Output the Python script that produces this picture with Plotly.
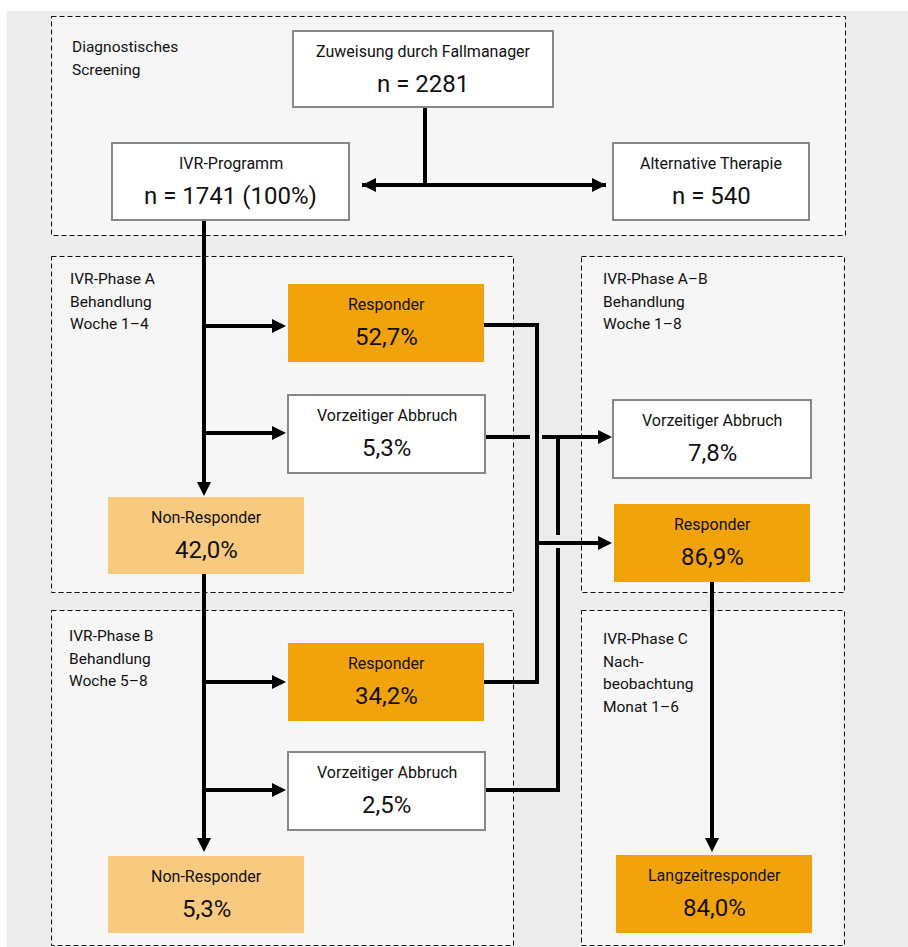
import plotly.graph_objects as go

# Box texts and values
BOX_TITLES = [
    "Zuweisung durch Fallmanager", "IVR-Programm", "Alternative Therapie",
    "Responder", "Vorzeitiger Abbruch", "Non-Responder",
    "Vorzeitiger Abbruch", "Responder",
    "Responder", "Vorzeitiger Abbruch", "Non-Responder",
    "Langzeitresponder",
]
BOX_VALUES = [
    "n = 2281", "n = 1741 (100%)", "n = 540",
    "52,7%", "5,3%", "42,0%",
    "7,8%", "86,9%",
    "34,2%", "2,5%", "5,3%",
    "84,0%",
]
BOX_KIND = [
    "white", "white", "white",
    "resp", "white", "nonresp",
    "white", "resp",
    "resp", "white", "nonresp",
    "resp",
]

PANEL_LABELS = [
    ["Diagnostisches", "Screening"],
    ["IVR-Phase A", "Behandlung", "Woche 1–4"],
    ["IVR-Phase A–B", "Behandlung", "Woche 1–8"],
    ["IVR-Phase B", "Behandlung", "Woche 5–8"],
    ["IVR-Phase C", "Nach-", "beobachtung", "Monat 1–6"],
]

# Layout (pixels)
BOX_RECTS = [
    (293, 31, 553, 107), (112, 143, 349, 220), (613, 143, 809, 220),
    (288, 284, 484, 362), (288, 395, 485, 473), (108, 497, 304, 574),
    (613, 400, 811, 478), (614, 504, 810, 582),
    (288, 643, 484, 721), (288, 752, 485, 830), (108, 856, 304, 933),
    (616, 855, 812, 933),
]
PANEL_RECTS = [
    (51, 16, 845, 235), (51, 256, 513, 592), (581, 256, 844, 592),
    (51, 610, 513, 945), (581, 610, 844, 945),
]
PANEL_TEXT_POS = [(70, 47), (68, 279), (601, 279), (67, 636), (601, 639)]

# Line segments (x0, y0, x1, y1)
SEGMENTS = [
    (425, 107, 425, 185),
    (362, 185, 606, 185),
    (204, 220, 204, 490),
    (204, 326, 275, 326), (204, 433, 275, 433),
    (204, 574, 204, 845),
    (204, 682, 275, 682), (204, 790, 275, 790),
    (484, 325, 539, 325), (537, 325, 537, 684), (539, 682, 484, 682),
    (485, 437, 530, 437), (542, 437, 600, 437),
    (558, 437, 558, 535), (558, 548, 558, 792), (560, 790, 485, 790),
    (537, 543, 600, 543),
    (712, 582, 712, 845),
]
# Arrow tips (x, y, direction)
ARROWS = [
    (362, 185, "left"), (606, 185, "right"),
    (204, 496, "down"), (204, 852, "down"),
    (286, 326, "right"), (286, 433, "right"),
    (286, 682, "right"), (286, 790, "right"),
    (612, 437, "right"), (612, 543, "right"),
    (712, 852, "down"),
]

FILL = {"white": "#ffffff", "resp": "#f2a30b", "nonresp": "#f8ca80"}
FONT = "Roboto, Arial, sans-serif"

fig = go.Figure()
shapes = []
annotations = []

shapes.append(dict(type="rect", x0=7, y0=11, x1=908, y1=947,
                   fillcolor="#ececec", line=dict(width=0), layer="below"))

for (x0, y0, x1, y1) in PANEL_RECTS:
    shapes.append(dict(type="rect", x0=x0 + 0.5, y0=y0 + 0.5, x1=x1 + 0.5, y1=y1 + 0.5,
                       fillcolor="#f5f6f5",
                       line=dict(color="#111111", width=1, dash="5px,3px")))

for (px, py), lines in zip(PANEL_TEXT_POS, PANEL_LABELS):
    for i, t in enumerate(lines):
        annotations.append(dict(x=px, y=py + i * 22.5, text=t, showarrow=False,
                                xanchor="left", yanchor="middle",
                                font=dict(family=FONT, size=15.5, color="#111")))

for (x0, y0, x1, y1) in SEGMENTS:
    shapes.append(dict(type="line", x0=x0, y0=y0, x1=x1, y1=y1,
                       line=dict(color="#000", width=4)))

for (x, y, d) in ARROWS:
    L, H = 14, 7
    if d == "right":
        p = f"M{x},{y} L{x-L},{y-H} L{x-L},{y+H} Z"
    elif d == "left":
        p = f"M{x},{y} L{x+L},{y-H} L{x+L},{y+H} Z"
    else:
        p = f"M{x},{y} L{x-H},{y-L} L{x+H},{y-L} Z"
    shapes.append(dict(type="path", path=p, fillcolor="#000", line=dict(width=0)))

for rect, title, val, kind in zip(BOX_RECTS, BOX_TITLES, BOX_VALUES, BOX_KIND):
    x0, y0, x1, y1 = rect
    border = dict(color="#888888", width=2) if kind == "white" else dict(width=0)
    shapes.append(dict(type="rect", x0=x0, y0=y0, x1=x1, y1=y1,
                       fillcolor=FILL[kind], line=border))
    cx = (x0 + x1) / 2
    annotations.append(dict(x=cx, y=y0 + 20, text=title, showarrow=False,
                            xanchor="center", yanchor="middle",
                            font=dict(family=FONT, size=16, color="#111")))
    annotations.append(dict(x=cx, y=y0 + 53, text=val, showarrow=False,
                            xanchor="center", yanchor="middle",
                            font=dict(family=FONT, size=24, color="#111")))

fig.update_layout(
    width=908, height=947,
    margin=dict(l=0, r=0, t=0, b=0),
    paper_bgcolor="#ffffff", plot_bgcolor="#ffffff",
    xaxis=dict(range=[0, 908], visible=False, fixedrange=True),
    yaxis=dict(range=[947, 0], visible=False, fixedrange=True),
    shapes=shapes, annotations=annotations,
    showlegend=False,
)

fig.write_html("out.html", config={"displayModeBar": False},
               post_script="document.body.style.margin='0';")
